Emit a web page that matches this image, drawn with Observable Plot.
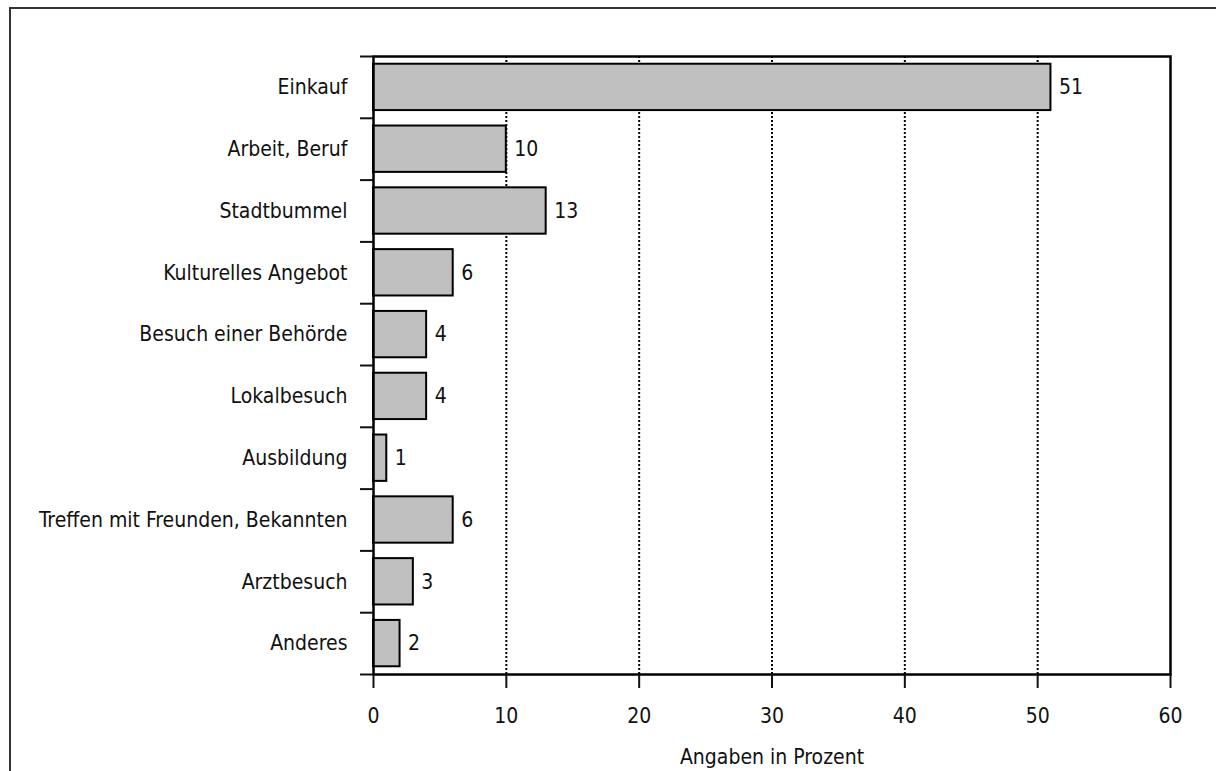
<!DOCTYPE html>
<html>
<head>
<meta charset="utf-8">
<script src="https://cdn.jsdelivr.net/npm/d3@7"></script>
<script src="https://cdn.jsdelivr.net/npm/@observablehq/plot@0.6"></script>
<style>
  html, body { margin: 0; padding: 0; background: #fff; }
  #wrap { position: relative; width: 1216px; height: 771px; overflow: hidden; }
  #frame { position: absolute; left: 9px; top: 7px; width: 1220px; height: 800px; border: 2px solid #333; box-sizing: border-box; }
  #chart { position: absolute; left: 0; top: 0; }
</style>
</head>
<body>
<div id="wrap"><div id="frame"></div><div id="chart"></div></div>
<script>
const categories = ["Einkauf", "Arbeit, Beruf", "Stadtbummel", "Kulturelles Angebot", "Besuch einer Behörde", "Lokalbesuch", "Ausbildung", "Treffen mit Freunden, Bekannten", "Arztbesuch", "Anderes"];
const values = [51, 10, 13, 6, 4, 4, 1, 6, 3, 2];
const xTicks = [0, 10, 20, 30, 40, 50, 60];
const gridTicks = [10, 20, 30, 40, 50];
const xLabel = "Angaben in Prozent";

const data = categories.map((c, i) => ({category: c, value: values[i]}));
const font = "'Liberation Sans Narrow', 'Arial Narrow', 'DejaVu Sans Condensed', sans-serif";
const fs = 21;
const half = (674 - 56) / categories.length / 2;

const chart = Plot.plot({
  width: 1216,
  height: 771,
  marginLeft: 373,
  marginRight: 46,
  marginTop: 56,
  marginBottom: 97,
  style: {fontFamily: font, fontSize: fs + "px", color: "#111", background: "transparent"},
  x: {domain: [0, 60], ticks: xTicks},
  y: {domain: categories, paddingInner: 0.25, paddingOuter: 0.125, round: false},
  marks: [
    Plot.ruleX(gridTicks, {stroke: "#000", strokeWidth: 2, strokeDasharray: "2,2"}),
    Plot.barX(data, {y: "category", x: "value", fill: "#c0c0c0", stroke: "#000", strokeWidth: 2}),
    Plot.text(data, {y: "category", x: "value", text: d => String(d.value), textAnchor: "start", dx: 8, fontSize: fs, fill: "#111"}),
    Plot.frame({stroke: "#000", strokeWidth: 2.5}),
    Plot.axisX({ticks: xTicks, tickSize: 14, tickPadding: 20, strokeWidth: 2, fontSize: fs, label: xLabel, labelAnchor: "center", labelArrow: "none", labelOffset: 89}),
    Plot.axisY({tickSize: 0, tickPadding: 26, fontSize: fs, label: null}),
    Plot.axisY({tickSize: 13, tickFormat: () => "", dy: -half, strokeWidth: 2, label: null}),
    Plot.axisY({ticks: [categories[categories.length - 1]], tickSize: 13, tickFormat: () => "", dy: half, strokeWidth: 2, label: null})
  ]
});
document.getElementById("chart").appendChild(chart);
</script>
</body>
</html>
